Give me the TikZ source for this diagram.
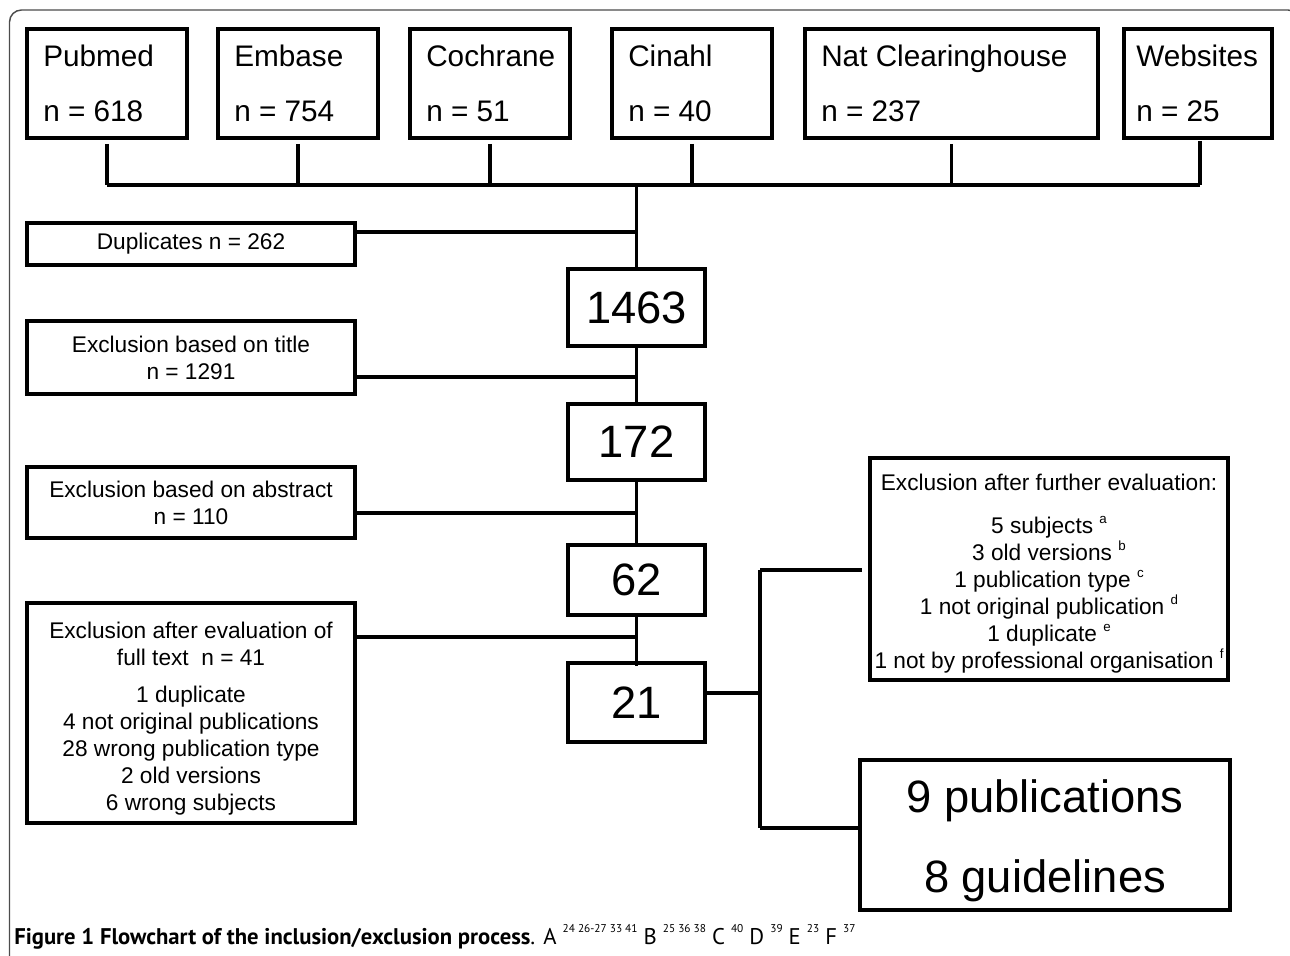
\documentclass[tikz,border=0pt]{standalone}
\usepackage{fontspec}
\setmainfont{Liberation Sans}
\newfontfamily\capfont{PT Sans}
\newcommand\pbox[7]{\node[#6, minimum width={(#4-#2)*0.75pt}, minimum height={(#5-#3)*0.75pt}] (#1) at ({(#2+#4)/2},{(#3+#5)/2}) {#7};}
\newcommand\sups[1]{\raisebox{0.42em}{\fontsize{10}{10}\selectfont #1}}
\newcommand\capsup[1]{\raisebox{0.5em}{\fontsize{8.5}{8.5}\selectfont #1}}
\begin{document}
\begin{tikzpicture}[x=0.75pt,y=-0.75pt,
  tbox/.style={draw, line width=2.8pt, inner sep=0pt},
  cbox/.style={draw, line width=3.4pt, inner sep=0pt, font=\fontsize{34}{40}\selectfont},
  side/.style={draw, line width=2.6pt, inner sep=0pt, align=center, font=\fontsize{17}{20.25}\selectfont},
  bigbox/.style={draw, line width=3pt, inner sep=0pt, align=center, font=\fontsize{34}{60}\selectfont},
  conn/.style={line width=2.4pt},
  toptxt/.style={anchor=base west, inner sep=0pt, font=\fontsize{22.3}{26}\selectfont}]
\useasboundingbox (0,0) rectangle (1290,956);
% frame
\draw[black!70, line width=1.1pt, rounded corners=9pt] (9.5,10) rectangle (1300,968);
% top source boxes
\pbox{pubmed}{27}{29}{187}{138}{tbox}{}
\pbox{embase}{218}{29}{378}{138}{tbox}{}
\pbox{cochrane}{410}{29}{570}{138}{tbox}{}
\pbox{cinahl}{612}{29}{772}{138}{tbox}{}
\pbox{natc}{805}{29}{1098}{138}{tbox}{}
\pbox{web}{1124}{29}{1272}{138}{tbox}{}
\node[toptxt] (pubmed-a) at (43,67) {Pubmed};
\node[toptxt] (pubmed-b) at (43,122) {n = 618};
\node[toptxt] (embase-a) at (234,67) {Embase};
\node[toptxt] (embase-b) at (234,122) {n = 754};
\node[toptxt] (cochrane-a) at (426,67) {Cochrane};
\node[toptxt] (cochrane-b) at (426,122) {n = 51};
\node[toptxt] (cinahl-a) at (628,67) {Cinahl};
\node[toptxt] (cinahl-b) at (628,122) {n = 40};
\node[toptxt] (natc-a) at (821,67) {Nat Clearinghouse};
\node[toptxt] (natc-b) at (821,122) {n = 237};
\node[toptxt] (web-a) at (1136,67) {Websites};
\node[toptxt] (web-b) at (1136,122) {n = 25};
% left exclusion boxes
\pbox{dup}{27}{223}{355}{265}{side}{Duplicates n = 262}
\pbox{title}{27}{321}{355}{394}{side}{Exclusion based on title\\n = 1291}
\pbox{abs}{27}{467}{355}{538}{side}{Exclusion based on abstract\\n = 110}
\pbox{full}{27}{603}{355}{823}{side}{\rule{0pt}{21pt}Exclusion after evaluation of\\full text\ \ n = 41\\[8pt]1 duplicate\\4 not original publications\\28 wrong publication type\\2 old versions\\6 wrong subjects}
% central count boxes
\pbox{n1463}{568}{269}{705}{346}{cbox}{1463}
\pbox{n172}{568}{404}{705}{480}{cbox}{172}
\pbox{n62}{568}{545}{705}{615}{cbox}{62}
\pbox{n21}{568}{663}{705}{742}{cbox}{21}
% right boxes
\pbox{excl}{870}{458}{1228}{680}{side}{\rule{0pt}{19pt}Exclusion after further evaluation:\\[12pt]5 subjects \sups{a}\\3 old versions \sups{b}\\1 publication type \sups{c}\\1 not original publication \sups{d}\\1 duplicate \sups{e}\\1 not by professional organisation \sups{f}}
\pbox{pub}{860}{760}{1230}{910}{bigbox}{\rule{0pt}{34pt}9 publications\\8 guidelines}
% connectors: sources to bus
\coordinate (bus) at (636,185);
\foreach \b in {pubmed,embase,cochrane,cinahl,natc}
  \draw[conn] ([yshift=-3pt]\b.south) -- (\b.south |- bus);
\coordinate (webdrop) at (1200,141);
\draw[conn] (webdrop) -- (webdrop |- bus);
\draw[conn] (pubmed.south |- bus) -- (webdrop |- bus);
\draw[conn] (n1463.north |- bus) -- (n1463.north);
\draw[conn] (dup.east |- 0,232) -- (n1463.north |- 0,232);
\draw[conn] (n1463.south) -- (n172.north);
\draw[conn] (title.east |- 0,377) -- (n1463.south |- 0,377);
\draw[conn] (n172.south) -- (n62.north);
\draw[conn] (abs.east |- 0,513) -- (n172.south |- 0,513);
\draw[conn] (n62.south) -- ([yshift=-4pt]n21.north);
\draw[conn] (full.east |- 0,637) -- (n62.south |- 0,637);
\coordinate (vmid) at (760,693);
\coordinate (vtop) at (760,570);
\coordinate (vbot) at (760,828);
\coordinate (vtopend) at (862,570);
\draw[conn] (n21.east |- vmid) -- (vmid);
\draw[conn] (vtop) -- (vbot);
\draw[conn] (vtop) -- (vtopend);
\draw[conn] (vbot) -- (pub.west |- vbot);
% caption
\node[anchor=base west, inner sep=0pt] (caption) at (14,944) {\capfont\fontsize{17}{20}\selectfont\textbf{Figure 1 Flowchart of the inclusion/exclusion process}. A \capsup{24\ 26-27\ 33\ 41} B \capsup{25\ 36\ 38} C \capsup{40} D \capsup{39} E \capsup{23} F \capsup{37}};
\end{tikzpicture}
\end{document}
